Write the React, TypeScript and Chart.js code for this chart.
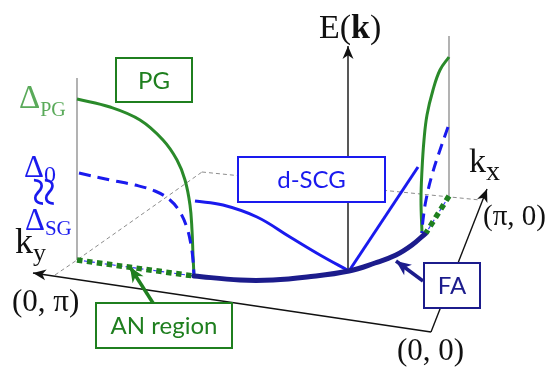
import { useEffect, useRef } from "react";
import { Chart, registerables } from "chart.js";

Chart.register(...registerables);

// ---- diagram data (x to the right, y downward, in frame units 556 x 367) ----
const backLeft = [[55, 275], [77, 260], [202, 172]];
const backRight = [[202, 172], [480, 200]];
const poleLeft = [[77, 78], [77, 260]];
const poleRight = [[449, 36], [449, 196]];
const eAxis = [[348, 272], [348, 46]];
const kyAxis = [[431, 332], [33, 273]];
const kxAxis = [[431, 332], [487, 189]];
const anLeft = [[77, 260], [194, 276]];
const anRight = [[449, 196], [426, 233]];
const faArc = [[194, 276], [240, 280], [273, 280], [307, 277], [349, 271], [375, 263], [396, 255], [412, 245], [426, 233]];
const pgLeft = [[77, 99], [110, 107], [140, 120], [163, 140], [177, 160], [185, 180], [190, 205], [192, 230], [193, 255], [194, 276]];
const sgLeft = [[79, 173], [110, 180], [135, 185], [155, 191], [170, 200], [180, 212], [187, 228], [191, 245], [193, 260], [194, 276]];
const scgLeft = [[195, 201], [223, 205], [257, 217], [290, 237], [320, 255], [349, 271]];
const scgRight = [[349, 271], [418, 167]];
const pgRight = [[449, 57], [440, 70], [433, 90], [427, 115], [424, 140], [422, 170], [421, 200], [422, 233]];
const sgRight = [[448, 127], [440, 150], [432, 175], [426, 200], [423, 220], [422, 233]];
const anArrow = [[153, 303], [130, 267]];
const faArrow = [[423, 281], [396, 261]];

const boxTexts = ["PG", "d-SCG", "AN region", "FA"];
const boxRects = [[116, 58, 192, 102], [238, 157, 385, 202], [96, 303, 232, 348], [424, 263, 480, 308]];

const GREEN = "#1f7f1f";
const LGREEN = "#5aaa5a";
const BLUE = "#1a1aee";
const NAVY = "#1c1c8c";
const GRAY = "#a0a0a0";
const DGRAY = "#8c8c8c";
const BLACK = "#111111";

const toPts = (a: number[][]) => a.map(([x, y]) => ({ x, y }));

function head(ctx: CanvasRenderingContext2D, x1: number, y1: number, x2: number, y2: number, len: number, wid: number, color: string) {
  const a = Math.atan2(y2 - y1, x2 - x1);
  ctx.save();
  ctx.translate(x2, y2);
  ctx.rotate(a);
  ctx.beginPath();
  ctx.moveTo(0, 0);
  ctx.lineTo(-len, -wid / 2);
  ctx.lineTo(-len * 0.72, 0);
  ctx.lineTo(-len, wid / 2);
  ctx.closePath();
  ctx.fillStyle = color;
  ctx.fill();
  ctx.restore();
}

const SERIF = '"Liberation Serif", "DejaVu Serif", serif';
const SANS = 'Lato, "Open Sans", sans-serif';

const diagramPlugin = {
  id: "diagram",
  afterDatasetsDraw(chart: any) {
    const ctx: CanvasRenderingContext2D = chart.ctx;
    const X = (v: number) => chart.scales.x.getPixelForValue(v);
    const Y = (v: number) => chart.scales.y.getPixelForValue(v);
    ctx.save();

    // arrow heads
    const heads: [number[][], number, number, string][] = [
      [eAxis, 13, 11, BLACK],
      [kyAxis, 13, 11, BLACK],
      [kxAxis, 13, 11, BLACK],
      [anArrow, 15, 13, GREEN],
      [faArrow, 15, 13, NAVY],
    ];
    heads.forEach(([l, len, wid, c]) => {
      const a = l[l.length - 2];
      const b = l[l.length - 1];
      head(ctx, X(a[0]), Y(a[1]), X(b[0]), Y(b[1]), len, wid, c);
    });

    // boxes
    const boxColors = [GREEN, BLUE, GREEN, NAVY];
    boxRects.forEach((r, i) => {
      const x0 = X(r[0]), y0 = Y(r[1]), x1 = X(r[2]), y1 = Y(r[3]);
      ctx.fillStyle = "#ffffff";
      ctx.fillRect(x0, y0, x1 - x0, y1 - y0);
      ctx.strokeStyle = boxColors[i];
      ctx.lineWidth = 2;
      ctx.strokeRect(x0, y0, x1 - x0, y1 - y0);
      ctx.fillStyle = boxColors[i];
      ctx.font = `24px ${SANS}`;
      ctx.textAlign = "center";
      ctx.textBaseline = "middle";
      ctx.fillText(boxTexts[i], (x0 + x1) / 2, (y0 + y1) / 2 + 1);
    });

    ctx.textAlign = "left";
    ctx.textBaseline = "alphabetic";
    const sub = (main: string, s: string, x: number, y: number, mf: number, sf: number, dy: number, color: string) => {
      ctx.fillStyle = color;
      ctx.font = `${mf}px ${SERIF}`;
      ctx.fillText(main, X(x), Y(y));
      const w = ctx.measureText(main).width;
      ctx.font = `${sf}px ${SERIF}`;
      ctx.fillText(s, X(x) + w, Y(y) + dy);
    };

    sub("Δ", "PG", 19, 108, 33, 20, 8, LGREEN);
    sub("Δ", "0", 24, 177, 31, 24, 5, BLUE);
    sub("Δ", "SG", 25, 230, 31, 21, 5, BLUE);
    sub("k", "y", 15, 253, 36, 26, 8, BLACK);
    sub("k", "x", 469, 172, 34, 28, 8, BLACK);

    // rotated approx sign
    ctx.save();
    ctx.translate(X(40), Y(192));
    ctx.rotate(Math.PI / 2);
    ctx.fillStyle = BLUE;
    ctx.font = `54px ${SERIF}`;
    ctx.textAlign = "center";
    ctx.textBaseline = "middle";
    ctx.fillText("≈", 0, 0);
    ctx.restore();

    // E(k)
    ctx.fillStyle = BLACK;
    let ex = X(319);
    const ey = Y(38);
    ctx.font = `34px ${SERIF}`;
    ctx.fillText("E(", ex, ey);
    ex += ctx.measureText("E(").width;
    ctx.font = `bold 34px ${SERIF}`;
    ctx.fillText("k", ex, ey);
    ex += ctx.measureText("k").width;
    ctx.font = `34px ${SERIF}`;
    ctx.fillText(")", ex, ey);

    ctx.font = `31px ${SERIF}`;
    ctx.fillText("(0, π)", X(12), Y(311));
    ctx.font = `31px ${SERIF}`;
    ctx.fillText("(0, 0)", X(397), Y(360));
    ctx.font = `29px ${SERIF}`;
    ctx.fillText("(π, 0)", X(483), Y(225));

    ctx.restore();
  },
};

type DS = { data: number[][]; color: string; width: number; dash?: number[]; tension?: number; cap?: CanvasLineCap };
const layers: DS[] = [
  { data: backLeft, color: DGRAY, width: 1, dash: [4, 3] },
  { data: backRight, color: DGRAY, width: 1, dash: [4, 3] },
  { data: poleLeft, color: GRAY, width: 1.6 },
  { data: poleRight, color: GRAY, width: 1.6 },
  { data: eAxis, color: BLACK, width: 1.4 },
  { data: kyAxis, color: BLACK, width: 1.4 },
  { data: kxAxis, color: BLACK, width: 1.4 },
  { data: anLeft, color: "#3a3aff", width: 1.2, dash: [4, 3] },
  { data: anRight, color: "#3a3aff", width: 1.2, dash: [4, 3] },
  { data: scgLeft, color: BLUE, width: 3, tension: 0.4 },
  { data: scgRight, color: BLUE, width: 3 },
  { data: pgLeft, color: "#2a8a2a", width: 3, tension: 0.4 },
  { data: sgLeft, color: BLUE, width: 3, dash: [12, 7], tension: 0.4 },
  { data: pgRight, color: "#2a8a2a", width: 3, tension: 0.4 },
  { data: sgRight, color: BLUE, width: 3, dash: [11, 7], tension: 0.4 },
  { data: faArc, color: NAVY, width: 5, tension: 0.4, cap: "round" },
  { data: anLeft, color: GREEN, width: 5.5, dash: [5.5, 4.5] },
  { data: anRight, color: GREEN, width: 5.5, dash: [5.5, 4.5] },
  { data: anArrow, color: GREEN, width: 3.5 },
  { data: faArrow, color: NAVY, width: 3.5 },
];

export default function App() {
  const ref = useRef<HTMLCanvasElement | null>(null);
  useEffect(() => {
    if (!ref.current) return;
    const chart = new Chart(ref.current, {
      type: "scatter",
      data: {
        datasets: layers.map((l, i) => ({
          data: toPts(l.data),
          showLine: true,
          borderColor: l.color,
          backgroundColor: l.color,
          borderWidth: l.width,
          borderDash: l.dash || [],
          borderCapStyle: l.cap || "butt",
          tension: l.tension || 0,
          pointRadius: 0,
          pointHoverRadius: 0,
          fill: false,
          order: -i,
        })),
      },
      options: {
        animation: false,
        responsive: false,
        events: [],
        layout: { padding: 0 },
        plugins: { legend: { display: false }, tooltip: { enabled: false } },
        scales: {
          x: { type: "linear", min: 0, max: 556, display: false },
          y: { type: "linear", min: 0, max: 367, reverse: true, display: false },
        },
      },
      plugins: [diagramPlugin],
    } as any);
    return () => chart.destroy();
  }, []);
  return (
    <div style={{ position: "absolute", left: 0, top: 0, width: 556, height: 367, background: "#fff" }}>
      <canvas ref={ref} width={556} height={367} style={{ display: "block", width: 556, height: 367 }} />
    </div>
  );
}
